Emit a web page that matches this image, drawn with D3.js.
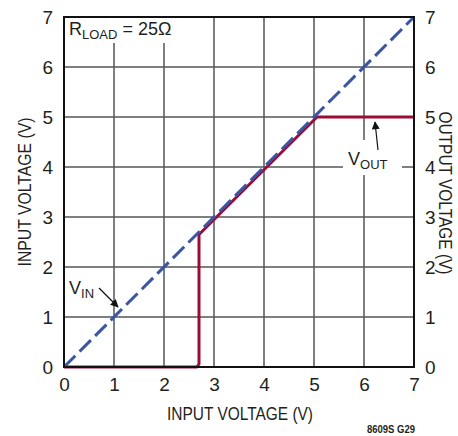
<!DOCTYPE html>
<html><head><meta charset="utf-8">
<script src="https://cdn.jsdelivr.net/npm/d3@7"></script>
<style>
body{margin:0;background:#fff;}
text{font-family:"Liberation Sans",Arial,sans-serif;fill:#231f20;}
</style></head><body>
<svg id="c" width="458" height="436"></svg>
<script>
const xTicks = [0,1,2,3,4,5,6,7];
const yTicks = [0,1,2,3,4,5,6,7];
const vinX = [0,7];
const vinY = [0,7];
const voutX = [0,2.66,2.70,2.70,5.06,7];
const voutY = [0,0,0.06,2.65,5,5];
const xTitle = "INPUT VOLTAGE (V)";
const yTitleL = "INPUT VOLTAGE (V)";
const yTitleR = "OUTPUT VOLTAGE (V)";

const svg = d3.select("#c");
const m = {l:64, r:414, t:17, b:367};
const x = d3.scaleLinear().domain([0,7]).range([m.l,m.r]);
const y = d3.scaleLinear().domain([0,7]).range([m.b,m.t]);
const FONT = '"Liberation Sans",Arial,sans-serif';

// grid
const g = svg.append("g");
g.selectAll(".vx").data(xTicks.slice(1,-1)).join("line")
 .attr("x1",d=>x(d)).attr("x2",d=>x(d)).attr("y1",m.t).attr("y2",m.b)
 .attr("stroke","#555").attr("stroke-width",1.5);
g.selectAll(".hy").data(yTicks.slice(1,-1)).join("line")
 .attr("y1",d=>y(d)).attr("y2",d=>y(d)).attr("x1",m.l).attr("x2",m.r)
 .attr("stroke","#555").attr("stroke-width",1.5);

// white boxes behind labels
svg.append("rect").attr("x",m.l+1).attr("y",m.t+1).attr("width",106).attr("height",25).attr("fill","#fff");
svg.append("rect").attr("x",343).attr("y",140).attr("width",59).attr("height",35).attr("fill","#fff");

// lines
const line = d3.line().x(d=>x(d[0])).y(d=>y(d[1]));
svg.append("path").datum(voutX.map((v,i)=>[v,voutY[i]]))
 .attr("d",line).attr("fill","none").attr("stroke","#9b0d35").attr("stroke-width",3).attr("stroke-linejoin","round");
svg.append("path").datum(vinX.map((v,i)=>[v,vinY[i]]))
 .attr("d",line).attr("fill","none").attr("stroke","#3b54a5").attr("stroke-width",3)
 .attr("stroke-dasharray","16,6");

// frame
svg.append("rect").attr("x",m.l).attr("y",m.t).attr("width",m.r-m.l).attr("height",m.b-m.t)
 .attr("fill","none").attr("stroke","#111").attr("stroke-width",2);

// axes labels
const fmt = d3.format("d");
const ax = d3.axisBottom(x).tickValues(xTicks).tickFormat(fmt).tickSize(0).tickPadding(11);
const bx = svg.append("g").attr("transform",`translate(0,${m.b})`).call(ax);
const ayl = d3.axisLeft(y).tickValues(yTicks).tickFormat(fmt).tickSize(0).tickPadding(11);
const byl = svg.append("g").attr("transform",`translate(${m.l},0)`).call(ayl);
const ayr = d3.axisRight(y).tickValues(yTicks).tickFormat(fmt).tickSize(0).tickPadding(11);
const byr = svg.append("g").attr("transform",`translate(${m.r},0)`).call(ayr);
[bx,byl,byr].forEach(s=>{s.select(".domain").remove();
 s.selectAll("text").attr("font-size",19).attr("font-family",FONT).attr("fill","#231f20");});

svg.append("text").attr("x",240).attr("y",420).attr("text-anchor","middle").attr("font-size",19)
 .attr("textLength",146).attr("lengthAdjust","spacingAndGlyphs").text(xTitle);
svg.append("text").attr("transform","translate(31,192) rotate(-90)").attr("text-anchor","middle").attr("font-size",19)
 .attr("textLength",149).attr("lengthAdjust","spacingAndGlyphs").text(yTitleL);
svg.append("text").attr("transform","translate(439,193) rotate(90)").attr("text-anchor","middle").attr("font-size",18)
 .attr("textLength",163).attr("lengthAdjust","spacingAndGlyphs").text(yTitleR);

// annotations
const rl = svg.append("text").attr("x",69).attr("y",35).attr("font-size",18);
rl.append("tspan").text("R");
rl.append("tspan").attr("font-size",13).attr("dy",3.5).text("LOAD");
rl.append("tspan").attr("dy",-3.5).text(" = 25Ω");

const vi = svg.append("text").attr("x",69).attr("y",294).attr("font-size",18);
vi.append("tspan").text("V");
vi.append("tspan").attr("font-size",13).attr("dy",4).text("IN");

const vo = svg.append("text").attr("x",348).attr("y",165).attr("font-size",18);
vo.append("tspan").text("V");
vo.append("tspan").attr("font-size",13).attr("dy",4).text("OUT");

svg.append("defs").append("marker").attr("id","ah").attr("viewBox","0 0 10 10").attr("refX",9).attr("refY",5)
 .attr("markerWidth",9).attr("markerHeight",8).attr("markerUnits","userSpaceOnUse").attr("orient","auto")
 .append("path").attr("d","M0,0 L10,5 L0,10 z").attr("fill","#111");
svg.append("line").attr("x1",99).attr("y1",288).attr("x2",118).attr("y2",307)
 .attr("stroke","#111").attr("stroke-width",1.2).attr("marker-end","url(#ah)");
svg.append("line").attr("x1",378).attr("y1",150).attr("x2",375).attr("y2",122)
 .attr("stroke","#111").attr("stroke-width",1.2).attr("marker-end","url(#ah)");

svg.append("text").attr("x",415).attr("y",433).attr("text-anchor","end").attr("font-size",10).attr("font-weight","bold")
 .attr("textLength",48).attr("lengthAdjust","spacingAndGlyphs").attr("fill","#333").text("8609S G29");
</script></body></html>
